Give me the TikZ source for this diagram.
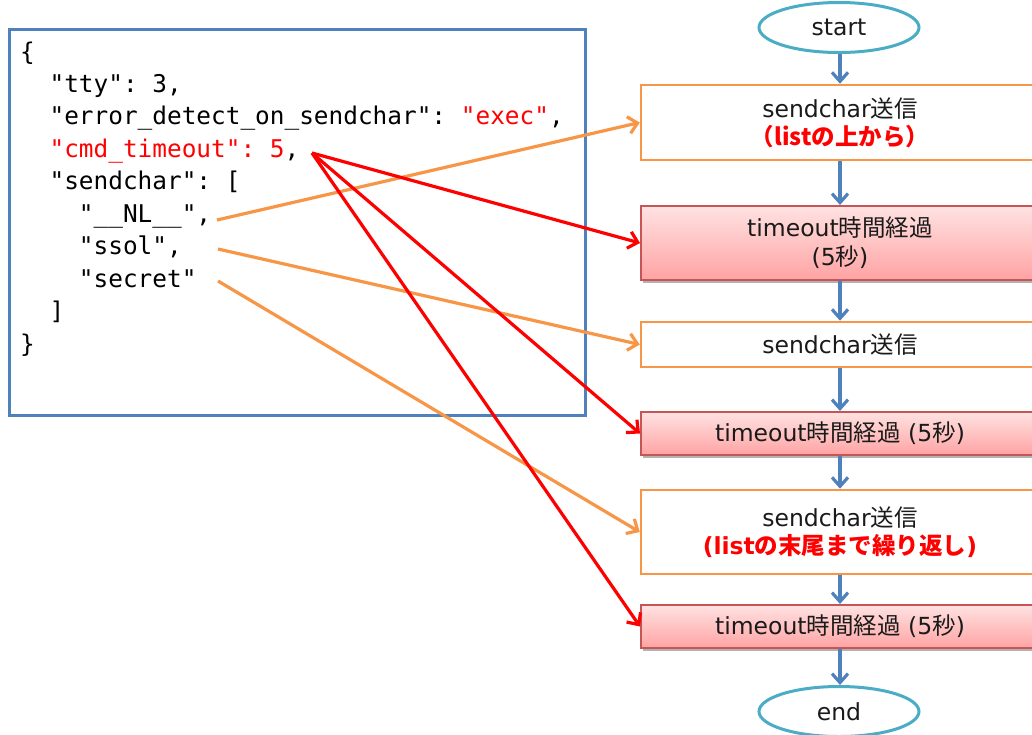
\documentclass[tikz,border=0pt]{standalone}
\usepackage{fontspec}
\setmainfont{DejaVu Sans}
\setmonofont{DejaVu Sans Mono}
\newfontfamily\jp{Noto Sans CJK JP}
\usetikzlibrary{arrows.meta,shapes.geometric,shadows}
\definecolor{codeblue}{HTML}{4F81BD}
\definecolor{ellblue}{HTML}{4BACC6}
\definecolor{orng}{HTML}{F79646}
\definecolor{rd}{HTML}{FF0000}
\definecolor{pinktop}{HTML}{FFE2E2}
\definecolor{pinkbot}{HTML}{FFA3A3}
\definecolor{pinkline}{HTML}{C65656}
\definecolor{txt}{HTML}{1A1A1A}
\tikzset{
  codeline/.style={anchor=base west, inner sep=0pt, font=\ttfamily\fontsize{24.4}{30}\selectfont, text=black},
  term/.style={ellipse, draw=ellblue, line width=3pt, minimum width=160pt, minimum height=50pt, inner sep=0pt, font=\fontsize{23.5}{27}\selectfont, text=txt},
  sendbox/.style={rectangle, draw=orng, line width=2.5pt, fill=white, minimum width=398pt, inner sep=0pt, align=center, font=\fontsize{23.5}{28}\selectfont, text=txt},
  waitbox/.style={rectangle, draw=pinkline, line width=2pt, top color=pinktop, bottom color=pinkbot, minimum width=398pt, inner sep=0pt, align=center, font=\fontsize{23.5}{29}\selectfont, text=txt, drop shadow={shadow xshift=2pt, shadow yshift=-3pt, opacity=0.3, fill=black}},
  flow/.style={draw=codeblue, line width=3.2pt, -{Straight Barb[length=9pt,width=16pt,line width=3.2pt]}},
  orangearrow/.style={draw=orng, line width=3.2pt, -{Straight Barb[length=9pt,width=17pt,line width=3.2pt]}},
  redarrow/.style={draw=rd, line width=3.2pt, -{Straight Barb[length=9pt,width=17pt,line width=3.2pt]}},
}
\begin{document}
\begin{tikzpicture}[x=1pt,y=-1pt]
\useasboundingbox (0,0) rectangle (1032,734);
% code box
\node[draw=codeblue, line width=3pt, rectangle, minimum width=576pt, minimum height=386pt, inner sep=0pt, anchor=north west] (codebox) at (8,28) {};
\node[codeline] (l1) at (20,60) {\{};
\node[codeline] (l2) at (20,92) {\ \ "tty": 3,};
\node[codeline] (l3) at (20,124) {\ \ "error\_detect\_on\_sendchar": \textcolor{rd}{"exec"},};
\node[codeline] (l4) at (20,157) {\ \ \textcolor{rd}{"cmd\_timeout": 5},};
\node[codeline] (l5) at (20,189) {\ \ "sendchar": [};
\node[codeline] (l6) at (20,222) {\ \ \ \ "\_\_NL\_\_",};
\node[codeline] (l7) at (20,254) {\ \ \ \ "ssol",};
\node[codeline] (l8) at (20,287) {\ \ \ \ "secret"};
\node[codeline] (l9) at (20,319) {\ \ ]};
\node[codeline] (l10) at (20,352) {\}};
\coordinate (cNL) at (217,220);
\coordinate (cSSOL) at (218,249);
\coordinate (cSECRET) at (218,281);
\coordinate (cTO) at (312,153);
% flowchart
\node[term] (start) at (839,27.5) {start};
\node[sendbox, minimum height=75pt] (s1) at (840,122.5) {sendchar{\jp 送信}\\{\color{rd}\bfseries\jp （\textbf{list}の上から）}};
\node[waitbox, minimum height=74pt] (w1) at (840,243) {timeout{\jp 時間経過}\\(5{\jp 秒})};
\node[sendbox, minimum height=45pt] (s2) at (840,344.5) {sendchar{\jp 送信}};
\node[waitbox, minimum height=43pt] (w2) at (840,433.5) {timeout{\jp 時間経過} (5{\jp 秒})};
\node[sendbox, minimum height=84pt] (s3) at (840,532) {sendchar{\jp 送信}\\{\color{rd}\bfseries (list{\jp\bfseries の末尾まで繰り返し})}};
\node[waitbox, minimum height=43pt] (w3) at (840,626.5) {timeout{\jp 時間経過} (5{\jp 秒})};
\node[term] (end) at (839,711.5) {end};
\draw[flow] (start.south -| s1.north) -- (s1.north);
\draw[flow] (s1) -- (w1);
\draw[flow] (w1) -- (s2);
\draw[flow] (s2) -- (w2);
\draw[flow] (w2) -- (s3);
\draw[flow] (s3) -- (w3);
\draw[flow] (w3.south) -- (end.north -| w3.south);
% connectors
\draw[orangearrow] (cNL) -- (s1.west);
\draw[orangearrow] (cSSOL) -- (s2.west);
\draw[orangearrow] (cSECRET) -- (s3.west);
\draw[redarrow] (cTO) -- (w1.west);
\draw[redarrow] (cTO) -- (w2.west);
\draw[redarrow] (cTO) -- (w3.west);
\end{tikzpicture}
\end{document}
